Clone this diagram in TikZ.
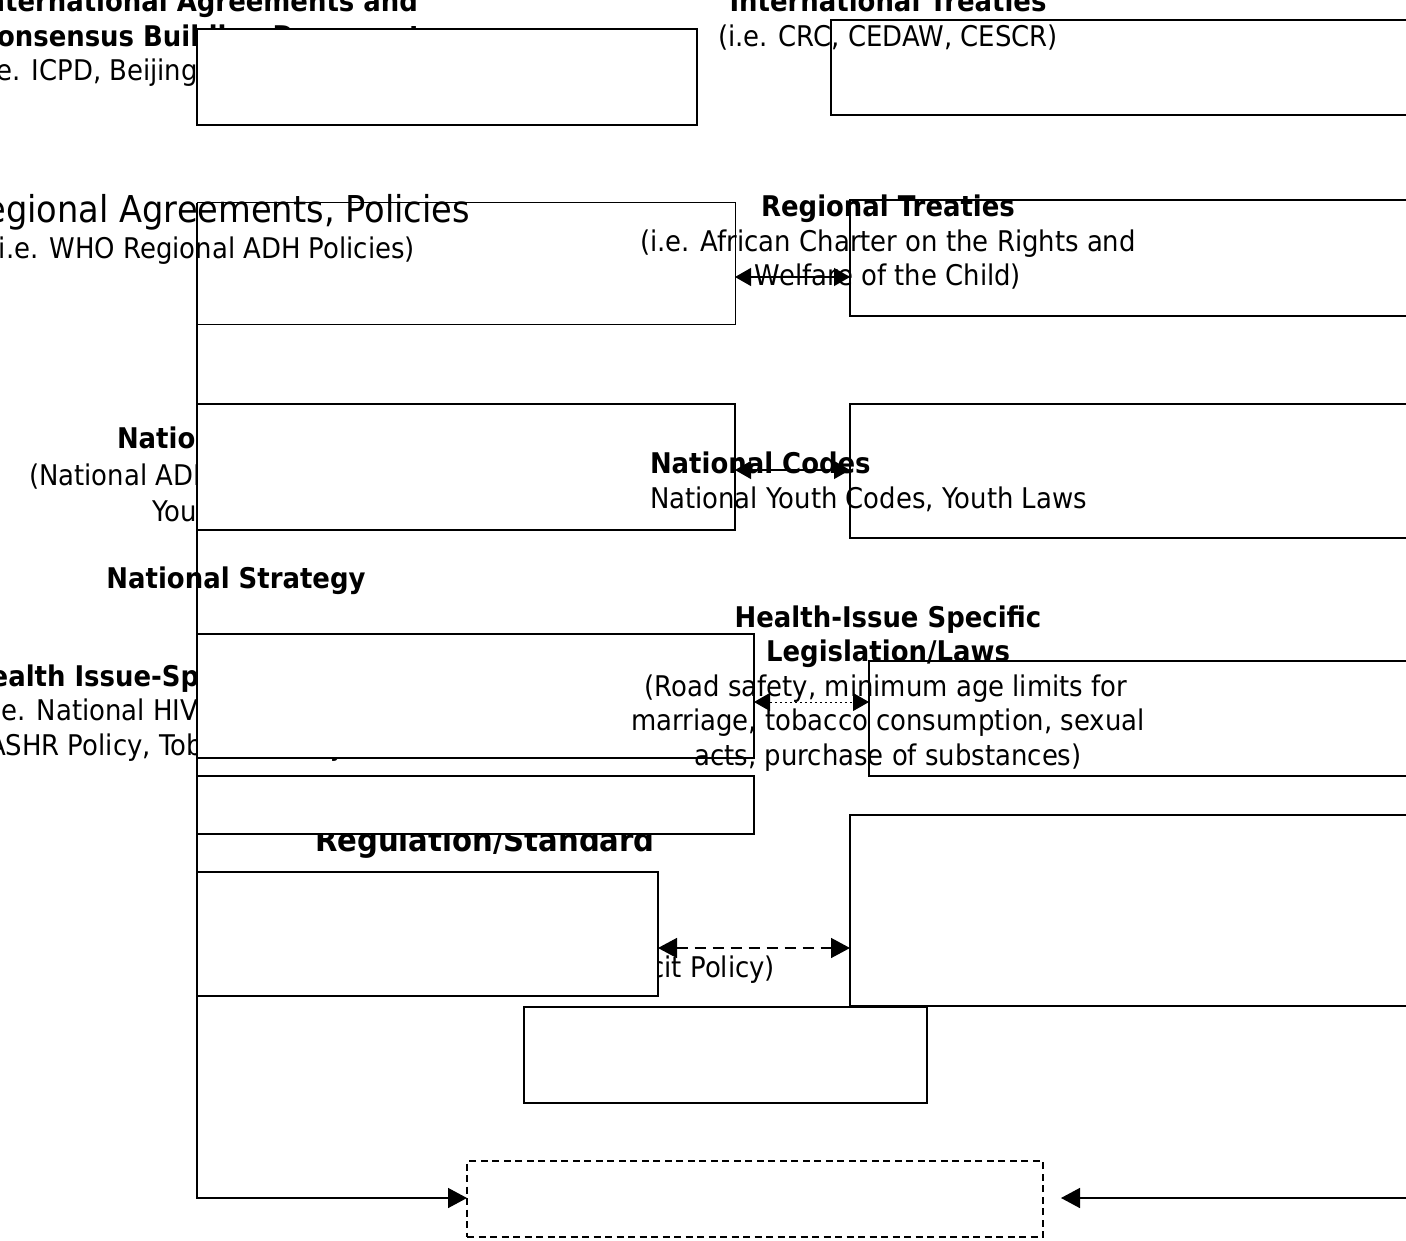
\documentclass[tikz,border=0pt]{standalone}
\usepackage{fontspec}
\setmainfont{DejaVu Sans}[FakeStretch=0.91]
\usetikzlibrary{arrows.meta}
\tikzset{
  txt/.style={inner sep=0pt, outer sep=0pt, font=\fontsize{28.5pt}{34.5pt}\selectfont},
  bigtxt/.style={inner sep=0pt, outer sep=0pt, font=\fontsize{37pt}{44pt}\selectfont},
  bf/.style={font=\fontsize{28.5pt}{34.5pt}\selectfont\bfseries},
  boxnode/.style={draw=black, line width=1.5pt, fill=white, inner sep=0pt, outer sep=0pt, anchor=north west},
  thinbox/.style={boxnode, line width=1pt},
  dashbox/.style={boxnode, fill=none, dash pattern=on 7pt off 4.5pt},
  tip/.style={-{Triangle[length=19pt,width=20pt]}},
  dbl/.style={{Triangle[length=16pt,width=18pt]}-{Triangle[length=16pt,width=18pt]}},
  dblbig/.style={{Triangle[length=19pt,width=20pt]}-{Triangle[length=19pt,width=20pt]}},
}
\begin{document}
\begin{tikzpicture}[x=1pt,y=-1pt]
\clip (0,0) rectangle (1406,1241);
\fill[white] (0,0) rectangle (1406,1241);
% ---- texts that lie behind the boxes
\node[txt,bf,anchor=base west] (ia1) at (-23,12) {International Agreements and};
\node[txt,bf,anchor=base west] (ia2) at (-22,46.5) {Consensus Building Documents};
\node[txt,anchor=base west] (ia3) at (-29,81) {(i.e. ICPD, Beijing, UNGASS, MDGs)};
\node[txt,bf,anchor=base west] (np1) at (117,448) {National Policy};
\node[txt,anchor=base west] (np2) at (29,485) {(National ADH Policy, National};
\node[txt,anchor=base west] (np3) at (152,521) {Youth Policy)};
\node[txt,bf,anchor=base west] (hp1) at (-31,686) {Health Issue-Specific Policy};
\node[txt,anchor=base west] (hp2) at (-24,720) {(i.e. National HIV/AIDS Policy,};
\node[txt,anchor=base west] (hp3) at (-12,755) {ASHR Policy, Tobacco Policy)};
\node[txt,anchor=base,font=\fontsize{32pt}{38pt}\selectfont\bfseries] (rs1) at (485,851) {Regulation/Standard};
\node[txt,anchor=base east] (rs2) at (775,977) {(i.e. National Drug and Illicit Policy)};
% ---- boxes
\node[boxnode, minimum width=500pt, minimum height=96pt] (iaB) at (197,29) {};
\node[boxnode, minimum width=590pt, minimum height=95pt] (itB) at (831,20) {};
\node[thinbox, minimum width=538pt, minimum height=122pt] (raB) at (197,203) {};
\node[boxnode, minimum width=570pt, minimum height=116pt] (rtB) at (850,200) {};
\node[boxnode, minimum width=538pt, minimum height=126pt] (npB) at (197,404) {};
\node[boxnode, minimum width=570pt, minimum height=134pt] (ncB) at (850,404) {};
\node[boxnode, minimum width=557pt, minimum height=124pt] (hpB) at (197,634) {};
\node[boxnode, minimum width=550pt, minimum height=115pt] (hlB) at (869,661) {};
\node[boxnode, minimum width=557pt, minimum height=58pt] (xB) at (197,776) {};
\node[boxnode, minimum width=461pt, minimum height=124pt] (rsB) at (197,872) {};
\node[boxnode, minimum width=570pt, minimum height=191pt] (bigB) at (850,815) {};
\node[boxnode, minimum width=403pt, minimum height=96pt] (midB) at (524,1007) {};
\node[dashbox, minimum width=576pt, minimum height=76pt] (outB) at (467,1161) {};
% ---- texts drawn over the boxes
\node[txt,bf,anchor=base] (it1) at (888,12) {International Treaties};
\node[txt,anchor=base] (it2) at (888,47) {(i.e. CRC, CEDAW, CESCR)};
\node[bigtxt,anchor=base east] (ra1) at (470,223) {Regional Agreements, Policies};
\node[txt,anchor=base east] (ra2) at (415,259) {(i.e. WHO Regional ADH Policies)};
\node[txt,bf,anchor=base] (rt1) at (888,217) {Regional Treaties};
\node[txt,anchor=base] (rt2) at (888,251.5) {(i.e. African Charter on the Rights and};
\node[txt,anchor=base] (rt3) at (888,286) {Welfare of the Child)};
\node[txt,bf,anchor=base west] (nc1) at (650,473) {National Codes};
\node[txt,anchor=base west] (nc2) at (650,508) {National Youth Codes, Youth Laws};
\node[txt,bf,anchor=base] (ns) at (236,588) {National Strategy};
\node[txt,bf,anchor=base] (hl1) at (888,627) {Health-Issue Specific};
\node[txt,bf,anchor=base] (hl2) at (888,661.5) {Legislation/Laws};
\node[txt,anchor=base] (hl3) at (886,696) {(Road safety, minimum age limits for};
\node[txt,anchor=base] (hl4) at (888,730.5) {marriage, tobacco consumption, sexual};
\node[txt,anchor=base] (hl5) at (888,765) {acts, purchase of substances)};
% ---- connectors
\coordinate (ya) at (0,277);
\coordinate (yb) at (0,470);
\coordinate (yc) at (0,702);
\coordinate (yd) at (0,948);
\coordinate (ye) at (0,1198);
\coordinate (rs) at (1420,1198);
\coordinate (rtip) at (1061,1198);
\draw[dbl, line width=1.2pt] (raB.east |- ya) -- (rtB.west |- ya);
\draw[dbl, line width=1.2pt] (npB.east |- yb) -- (ncB.west |- yb);
\draw[dbl, line width=1pt, dash pattern=on 2pt off 3pt] (hpB.east |- yc) -- (hlB.west |- yc);
\draw[dblbig, line width=1.5pt, dash pattern=on 11pt off 7pt] (rsB.east |- yd) -- (bigB.west |- yd);
\draw[tip, line width=1.5pt] (raB.north west) -- (raB.north west |- ye) -- (outB.west |- ye);
\draw[tip, line width=1.5pt] (rs) -- (rtip);
\end{tikzpicture}
\end{document}
